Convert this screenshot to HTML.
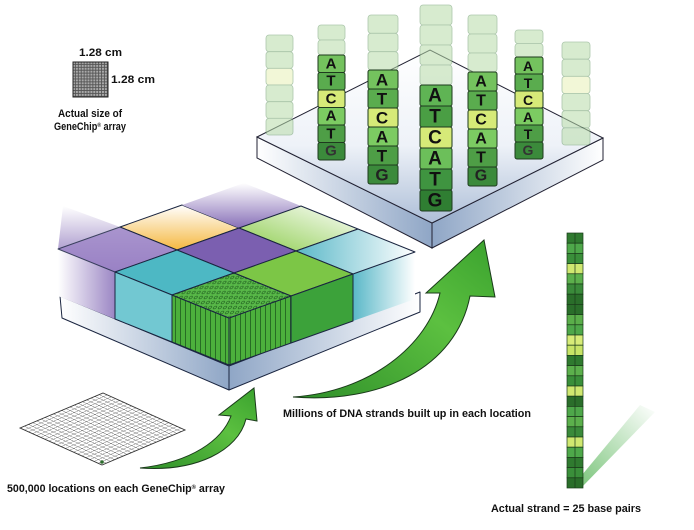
<!DOCTYPE html>
<html><head><meta charset="utf-8"><style>
html,body{margin:0;padding:0;background:#fff;width:694px;height:530px;overflow:hidden}
svg{display:block}
text{font-family:"Liberation Sans",sans-serif;font-weight:bold}
</style></head><body>
<svg width="694" height="530" viewBox="0 0 694 530" xmlns="http://www.w3.org/2000/svg">
<defs>
<linearGradient id="plat" x1="0" y1="0" x2="0" y2="1"><stop offset="0" stop-color="#fff"/><stop offset="0.55" stop-color="#eef2f8"/><stop offset="1" stop-color="#aebfd8"/></linearGradient>
<linearGradient id="side" x1="0" y1="0" x2="1" y2="0"><stop offset="0" stop-color="#fff"/><stop offset="1" stop-color="#8fa6c6"/></linearGradient>
<linearGradient id="side2" x1="0" y1="0" x2="1" y2="0"><stop offset="0" stop-color="#8fa6c6"/><stop offset="1" stop-color="#fff"/></linearGradient>
<linearGradient id="arr" x1="0" y1="1" x2="1" y2="0"><stop offset="0" stop-color="#2f8f2a"/><stop offset="0.6" stop-color="#5cc040"/><stop offset="1" stop-color="#3aa22e"/></linearGradient>
<linearGradient id="fadeP" x1="0" y1="0" x2="1" y2="0"><stop offset="0" stop-color="#fff"/><stop offset="1" stop-color="#9b86c4"/></linearGradient>
<linearGradient id="fadeC" x1="1" y1="0" x2="0" y2="0"><stop offset="0" stop-color="#fff"/><stop offset="1" stop-color="#5ab8c8"/></linearGradient>
<linearGradient id="fadeT" x1="0" y1="0" x2="0" y2="1"><stop offset="0" stop-color="#fff"/><stop offset="1" stop-color="#f5b840"/></linearGradient>
<linearGradient id="fadeG" x1="1" y1="0" x2="0" y2="1"><stop offset="0" stop-color="#fff"/><stop offset="1" stop-color="#8ccc4c"/></linearGradient>
<linearGradient id="fadeV" x1="0" y1="0" x2="0" y2="1"><stop offset="0" stop-color="#fff"/><stop offset="1" stop-color="#8870b8"/></linearGradient>
<linearGradient id="tail" x1="0" y1="1" x2="1" y2="0"><stop offset="0" stop-color="#3aa83a"/><stop offset="1" stop-color="#3aa83a" stop-opacity="0"/></linearGradient>
<pattern id="stripes" width="5" height="10" patternUnits="userSpaceOnUse"><rect width="5" height="10" fill="#4cb03c"/><line x1="0.5" y1="0" x2="0.5" y2="10" stroke="#1d5a1d" stroke-width="0.8"/></pattern>
<pattern id="dots" width="5" height="5" patternUnits="userSpaceOnUse" patternTransform="skewX(-30)"><rect width="5" height="5" fill="#58b848"/><circle cx="2.5" cy="2.5" r="1.4" fill="none" stroke="#1d5a1d" stroke-width="0.6"/></pattern>
<pattern id="chipg" width="2.9" height="2.9" patternUnits="userSpaceOnUse" x="73" y="62"><rect width="2.9" height="2.9" fill="#555"/><rect width="2" height="2" fill="#aaa"/></pattern>
<pattern id="flat" width="1" height="1" patternUnits="userSpaceOnUse" patternTransform="matrix(4.15,-1.75,4.1,1.85,20,428)"><rect width="1" height="1" fill="#fff"/><path d="M0,0 H1 M0,0 V1" stroke="#333" stroke-width="0.18" fill="none"/></pattern>
</defs>

<rect x="73" y="62" width="35" height="35" fill="url(#chipg)" stroke="#222" stroke-width="1"/>

<polygon points="257,137 432,223 432,248 257,158" fill="url(#side)" stroke="#223" stroke-width="1"/>
<polygon points="432,223 603,138 603,160 432,248" fill="url(#side2)" stroke="#223" stroke-width="1"/>
<polygon points="257,137 430,50 603,138 432,223" fill="url(#plat)" stroke="#223" stroke-width="1"/>

<g fill="#b8dca8" stroke="#6a9a6a" stroke-width="0.8" opacity="0.55">
<rect x="266" y="35" width="27" height="16.7" rx="3"/><rect x="266" y="51.7" width="27" height="16.7" rx="3"/><rect x="266" y="68.3" width="27" height="16.7" rx="3" fill="#e8f2b8"/><rect x="266" y="85" width="27" height="16.7" rx="3"/><rect x="266" y="101.7" width="27" height="16.7" rx="3"/><rect x="266" y="118.3" width="27" height="16.7" rx="3"/>
<rect x="562" y="42" width="28" height="17.2" rx="3"/><rect x="562" y="59.2" width="28" height="17.2" rx="3"/><rect x="562" y="76.3" width="28" height="17.2" rx="3" fill="#e8f2b8"/><rect x="562" y="93.5" width="28" height="17.2" rx="3"/><rect x="562" y="110.7" width="28" height="17.2" rx="3"/><rect x="562" y="127.8" width="28" height="17.2" rx="3"/>
<rect x="318" y="25" width="27" height="15" rx="3"/><rect x="318" y="40" width="27" height="15" rx="3"/>
<rect x="368" y="15" width="30" height="18.3" rx="3"/><rect x="368" y="33.3" width="30" height="18.3" rx="3"/><rect x="368" y="51.7" width="30" height="18.3" rx="3"/>
<rect x="420" y="5" width="32" height="20" rx="3"/><rect x="420" y="25" width="32" height="20" rx="3"/><rect x="420" y="45" width="32" height="20" rx="3"/><rect x="420" y="65" width="32" height="20" rx="3"/>
<rect x="468" y="15" width="29" height="19" rx="3"/><rect x="468" y="34" width="29" height="19" rx="3"/><rect x="468" y="53" width="29" height="19" rx="3"/>
<rect x="515" y="30" width="28" height="13.5" rx="3"/><rect x="515" y="43.5" width="28" height="13.5" rx="3"/>
</g>

<g stroke="#1e3a1e" stroke-width="1">
<rect x="318" y="55" width="27" height="17.5" rx="2" fill="#74c25e"/><rect x="318" y="72.5" width="27" height="17.5" rx="2" fill="#5aac4e"/><rect x="318" y="90" width="27" height="17.5" rx="2" fill="#d6ea78"/><rect x="318" y="107.5" width="27" height="17.5" rx="2" fill="#7ccb62"/><rect x="318" y="125" width="27" height="17.5" rx="2" fill="#4e9e46"/><rect x="318" y="142.5" width="27" height="17.5" rx="2" fill="#3b8a3b"/>
<rect x="368" y="70" width="30" height="19" rx="2" fill="#74c25e"/><rect x="368" y="89" width="30" height="19" rx="2" fill="#5aac4e"/><rect x="368" y="108" width="30" height="19" rx="2" fill="#d6ea78"/><rect x="368" y="127" width="30" height="19" rx="2" fill="#7ccb62"/><rect x="368" y="146" width="30" height="19" rx="2" fill="#4e9e46"/><rect x="368" y="165" width="30" height="19" rx="2" fill="#3b8a3b"/>
<rect x="420" y="85" width="32" height="21" rx="2" fill="#5fb454"/><rect x="420" y="106" width="32" height="21" rx="2" fill="#4a9e44"/><rect x="420" y="127" width="32" height="21" rx="2" fill="#d6ea78"/><rect x="420" y="148" width="32" height="21" rx="2" fill="#6cbf5a"/><rect x="420" y="169" width="32" height="21" rx="2" fill="#3f9440"/><rect x="420" y="190" width="32" height="21" rx="2" fill="#2f7e32"/>
<rect x="468" y="72" width="29" height="19" rx="2" fill="#74c25e"/><rect x="468" y="91" width="29" height="19" rx="2" fill="#5aac4e"/><rect x="468" y="110" width="29" height="19" rx="2" fill="#d6ea78"/><rect x="468" y="129" width="29" height="19" rx="2" fill="#7ccb62"/><rect x="468" y="148" width="29" height="19" rx="2" fill="#4e9e46"/><rect x="468" y="167" width="29" height="19" rx="2" fill="#3b8a3b"/>
<rect x="515" y="57" width="28" height="17" rx="2" fill="#74c25e"/><rect x="515" y="74" width="28" height="17" rx="2" fill="#5aac4e"/><rect x="515" y="91" width="28" height="17" rx="2" fill="#d6ea78"/><rect x="515" y="108" width="28" height="17" rx="2" fill="#7ccb62"/><rect x="515" y="125" width="28" height="17" rx="2" fill="#4e9e46"/><rect x="515" y="142" width="28" height="17" rx="2" fill="#3b8a3b"/>
</g>

<g stroke="#1a2540" stroke-width="1" stroke-linejoin="round">
<polygon points="60,296 229,366 229,390 62,318" fill="url(#side)"/>
<polygon points="229,366 420,292 420,312 229,390" fill="url(#side2)"/>
<polygon points="58,249 115,272 115,319 58,296" fill="url(#fadeP)" stroke="none"/>
<polygon points="353,274 415,252 415,299 353,321" fill="url(#fadeC)" stroke="none"/>
<polygon points="63,206 120,227 177,250 115,272 58,249" fill="url(#fadeV)" stroke="none"/>
<polygon points="120,227 182,205 239,228 177,250" fill="url(#fadeT)"/>
<polygon points="182,205 239,228 301,206 244,183" fill="url(#fadeV)" stroke="none"/>
<polygon points="239,228 301,206 358,229 296,251" fill="url(#fadeG)"/>
<polygon points="296,251 358,229 415,252 353,274" fill="url(#fadeC)"/>
<polygon points="177,250 239,228 296,251 234,273" fill="#7b5fb0"/>
<polygon points="58,249 120,227 177,250 115,272" fill="#9e86c8" opacity="0.8"/>
<polygon points="115,272 177,250 234,273 172,295" fill="#4db8c4"/>
<polygon points="115,272 172,295 172,342 115,319" fill="#72c8d2"/>
<polygon points="234,273 296,251 353,274 291,296" fill="#7cc646"/>
<polygon points="291,296 353,274 353,321 291,343" fill="#3ca23a"/>
<polygon points="172,295 229,318 229,365 172,342" fill="url(#stripes)"/>
<polygon points="229,318 291,296 291,343 229,365" fill="url(#stripes)"/>
<polygon points="172,295 234,273 291,296 229,318" fill="url(#dots)"/>
</g>

<polygon points="20,428 103,393 185,430 102,465" fill="url(#flat)" stroke="#333" stroke-width="0.9"/>
<circle cx="102" cy="462" r="1.8" fill="#2a6a2a"/>

<path d="M293,397 C370,392 428,345 440,293 L426,293 L484,240 L495,297 L470,296 C456,368 380,404 293,397 Z" fill="url(#arr)" stroke="#1a3a1a" stroke-width="1"/>
<path d="M140,468 C192,462 222,440 231,416 L219,415 L254,388 L257,421 L246,419 C238,451 196,472 140,468 Z" fill="url(#arr)" stroke="#1a3a1a" stroke-width="1"/>

<polygon points="572,487 582,487 655,412 640,405" fill="url(#tail)" opacity="0.7"/>
<g stroke="#1a3a1a" stroke-width="0.7">
<rect x="567" y="233" width="16" height="10.2" fill="#2f7a2f"/><rect x="567" y="243.2" width="16" height="10.2" fill="#4ea84a"/><rect x="567" y="253.4" width="16" height="10.2" fill="#3a8f3a"/><rect x="567" y="263.6" width="16" height="10.2" fill="#d0e870"/><rect x="567" y="273.8" width="16" height="10.2" fill="#5cb04c"/><rect x="567" y="284" width="16" height="10.2" fill="#3a8a3a"/><rect x="567" y="294.2" width="16" height="10.2" fill="#2a6e2a"/><rect x="567" y="304.4" width="16" height="10.2" fill="#2a6e2a"/><rect x="567" y="314.6" width="16" height="10.2" fill="#5aae4a"/><rect x="567" y="324.8" width="16" height="10.2" fill="#4ea84a"/><rect x="567" y="335" width="16" height="10.2" fill="#d8ec78"/><rect x="567" y="345.2" width="16" height="10.2" fill="#c8e466"/><rect x="567" y="355.4" width="16" height="10.2" fill="#2f7a2f"/><rect x="567" y="365.6" width="16" height="10.2" fill="#5cb04c"/><rect x="567" y="375.8" width="16" height="10.2" fill="#3a8f3a"/><rect x="567" y="386" width="16" height="10.2" fill="#d0e870"/><rect x="567" y="396.2" width="16" height="10.2" fill="#2a6e2a"/><rect x="567" y="406.4" width="16" height="10.2" fill="#4ea84a"/><rect x="567" y="416.6" width="16" height="10.2" fill="#5cb04c"/><rect x="567" y="426.8" width="16" height="10.2" fill="#3a8a3a"/><rect x="567" y="437" width="16" height="10.2" fill="#d0e870"/><rect x="567" y="447.2" width="16" height="10.2" fill="#4ea84a"/><rect x="567" y="457.4" width="16" height="10.2" fill="#2f7a2f"/><rect x="567" y="467.6" width="16" height="10.2" fill="#3a8f3a"/><rect x="567" y="477.8" width="16" height="10.2" fill="#2a6e2a"/>
<line x1="575" y1="233" x2="575" y2="488"/>
</g>

<g text-anchor="middle" dominant-baseline="central" fill="#111">
<g font-size="15"><text x="331" y="64">A</text><text x="331" y="81">T</text><text x="331" y="99">C</text><text x="331" y="116">A</text><text x="331" y="134">T</text><text x="331" y="151" fill="#333">G</text></g>
<g font-size="17"><text x="382" y="80">A</text><text x="382" y="99">T</text><text x="382" y="118">C</text><text x="382" y="137">A</text><text x="382" y="156">T</text><text x="382" y="175" fill="#222">G</text></g>
<g font-size="19"><text x="435" y="96">A</text><text x="435" y="117">T</text><text x="435" y="138">C</text><text x="435" y="159">A</text><text x="435" y="180">T</text><text x="435" y="201" fill="#111">G</text></g>
<g font-size="16"><text x="481" y="82">A</text><text x="481" y="101">T</text><text x="481" y="120">C</text><text x="481" y="139">A</text><text x="481" y="158">T</text><text x="481" y="176" fill="#222">G</text></g>
<g font-size="14"><text x="528" y="66">A</text><text x="528" y="83">T</text><text x="528" y="100">C</text><text x="528" y="117">A</text><text x="528" y="134">T</text><text x="528" y="150" fill="#333">G</text></g>
</g>

<g fill="#111" font-size="11">
<text x="79" y="56" textLength="43" lengthAdjust="spacingAndGlyphs">1.28 cm</text>
<text x="111" y="83" textLength="44" lengthAdjust="spacingAndGlyphs">1.28 cm</text>
<text x="58" y="117" textLength="64" lengthAdjust="spacingAndGlyphs">Actual size of</text>
<text x="54" y="130" textLength="72" lengthAdjust="spacingAndGlyphs">GeneChip<tspan font-size="6" dy="-3">®</tspan><tspan dy="3"> array</tspan></text>
<text x="7" y="492" textLength="218" lengthAdjust="spacingAndGlyphs">500,000 locations on each GeneChip<tspan font-size="6" dy="-3">®</tspan><tspan dy="3"> array</tspan></text>
<text x="283" y="417" textLength="248" lengthAdjust="spacingAndGlyphs">Millions of DNA strands built up in each location</text>
<text x="491" y="512" textLength="150" lengthAdjust="spacingAndGlyphs">Actual strand = 25 base pairs</text>
</g>
</svg>
</body></html>
